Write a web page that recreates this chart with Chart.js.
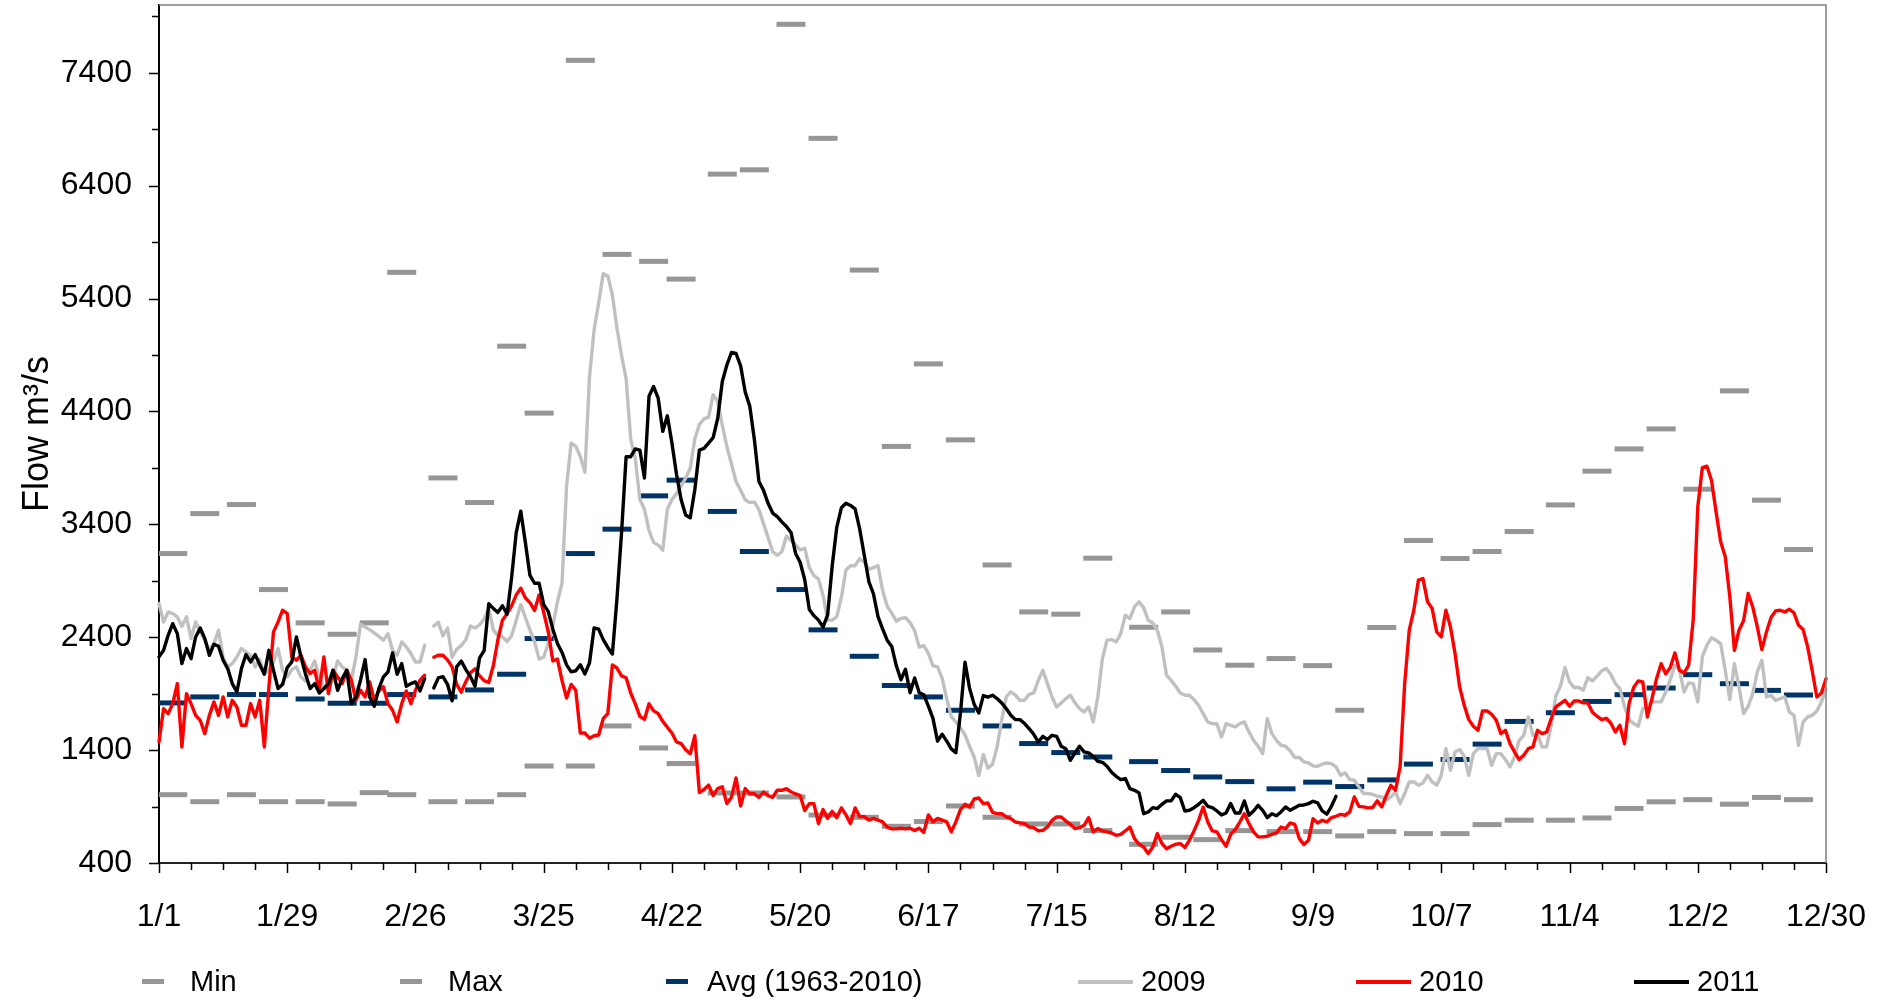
<!DOCTYPE html>
<html>
<head>
<meta charset="utf-8">
<title>Flow</title>
<script src="https://cdn.jsdelivr.net/npm/chart.js@4.4.1/dist/chart.umd.min.js"></script>
<style>
  html, body { margin: 0; padding: 0; background: #fff; }
  #wrap { position: relative; width: 1877px; height: 1002px; overflow: hidden; }
  #flowChart { position: absolute; left: 0; top: 0; }
  .key { position: absolute; top: 967px; height: 29px; line-height: 29px; display: flex; align-items: center;
         font-family: 'Liberation Sans', Arial, sans-serif; font-size: 29px; color: #000; white-space: nowrap; }
  .key .dash { display: inline-block; width: 22px; height: 5px; margin-right: 26px; }
  .key .line { display: inline-block; width: 55px; height: 4px; margin-right: 8px; }
</style>
</head>
<body>
<div id="wrap">
  <canvas id="flowChart" width="1877" height="1002"></canvas>
  <div class="key" style="left:142px"><span class="dash" style="background:#969696"></span>Min</div>
  <div class="key" style="left:400px"><span class="dash" style="background:#969696"></span>Max</div>
  <div class="key" style="left:666px"><span class="dash" style="background:#003366;margin-right:19px"></span>Avg (1963-2010)</div>
  <div class="key" style="left:1078px"><span class="line" style="background:#c0c0c0"></span>2009</div>
  <div class="key" style="left:1356px"><span class="line" style="background:#ff0000"></span>2010</div>
  <div class="key" style="left:1634px"><span class="line" style="background:#000000"></span>2011</div>
</div>
<script>
// day of year (0 = 1/1, leap-year axis, 59 = 2/29 has no data)
const xTickLabels = ['1/1', '1/29', '2/26', '3/25', '4/22', '5/20', '6/17', '7/15', '8/12', '9/9', '10/7', '11/4', '12/2', '12/30'];
const yTickValues = [400, 1400, 2400, 3400, 4400, 5400, 6400, 7400];

// quarter-month statistics, plotted at these days
const periodDays = [3, 10, 18, 25, 33, 40, 47, 53, 62, 70, 77, 83, 92, 100, 108, 114, 123, 130, 138, 145, 154, 161, 168, 175,
  183, 191, 198, 205, 215, 222, 229, 236, 245, 253, 260, 267, 275, 283, 290, 297, 306, 314, 321, 328, 336, 344, 351, 358];
const minFlow = [1005, 943, 1005, 943, 943, 923, 1023, 1005, 943, 943, 1005, 1259, 1259, 1614, 1419, 1281, 1020, 1020, 985, 825, 805, 725, 767, 905,
  805, 746, 746, 687, 566, 628, 607, 687, 678, 678, 640, 678, 660, 660, 740, 779, 779, 799, 883, 942, 961, 921, 981, 961];
const maxFlow = [3141, 3495, 3575, 2822, 2527, 2426, 2527, 5632, 3811, 3593, 4978, 4385, 7510, 5791, 5729, 5572, 6502, 6540, 7829, 6819, 5652, 4090, 4821, 4148,
  3040, 2624, 2604, 3100, 2488, 2624, 2287, 2152, 2211, 2148, 1753, 2486, 3257, 3097, 3159, 3336, 3572, 3871, 4068, 4245, 3711, 4582, 3614, 3177];
const avgFlow = [1818, 1871, 1892, 1892, 1853, 1815, 1815, 1892, 1871, 1933, 2072, 2388, 3141, 3357, 3652, 3791, 3514, 3159, 2822, 2465, 2231, 1972, 1871, 1753,
  1614, 1458, 1378, 1339, 1298, 1219, 1162, 1121, 1057, 1116, 1077, 1136, 1276, 1317, 1453, 1654, 1731, 1831, 1891, 1950, 2068, 1988, 1929, 1888];

// daily flows
const flow2009 = [
  2698, 2535, 2624, 2609, 2580, 2497, 2580, 2388, 2535, 2447,
  2373, 2284, 2343, 2462, 2225, 2137, 2166, 2225, 2299, 2270,
  2240, 2137, 2202, 2078, 2107, 2181, 2299, 2107, 2048, 2113,
  2137, 2048, 2013, 2107, 2190, 2048, 1960, 1930, 2048, 2190,
  2137, 2107, 2019, 2225, 2515, 2491, 2467, 2438, 2408, 2373,
  2432, 2284, 2240, 2358, 2314, 2255, 2181, 2181, 2329, null,
  2500, 2533, 2412, 2481, 2223, 2292, 2326, 2378, 2499, 2481,
  2509, 2561, 2654, 2465, 2413, 2403, 2361, 2413, 2551, 2689,
  2575, 2465, 2361, 2206, 2223, 2344, 2499, 2713, 2878, 3740,
  4120, 4092, 3999, 3861, 4706, 5120, 5361, 5619, 5602, 5430,
  5137, 4896, 4689, 4155, 3982, 3620, 3534, 3344, 3240, 3216,
  3171, 3534, 3620, 3672, 3741, 3810, 3896, 4155, 4285, 4334,
  4350, 4549, 4487, 4276, 4090, 3934, 3779, 3701, 3617, 3592,
  3598, 3530, 3406, 3282, 3157, 3126, 3157, 3297, 3257, 3219,
  3173, 3188, 3017, 2946, 2915, 2769, 2551, 2551, 2582, 2753,
  2995, 3033, 3033, 3095, 3064, 3002, 3017, 3033, 2816, 2676,
  2613, 2542, 2567, 2573, 2529, 2458, 2312, 2325, 2256, 2147,
  2138, 2038, 1858, 1697, 1650, 1597, 1535, 1432, 1339, 1174,
  1361, 1240, 1274, 1428, 1664, 1871, 1915, 1886, 1841, 1841,
  1894, 1906, 2018, 2107, 1989, 1871, 1782, 1818, 1856, 1886,
  1818, 1768, 1738, 1782, 1649, 1871, 2211, 2373, 2379, 2358,
  2432, 2595, 2565, 2669, 2713, 2662, 2550, 2526, 2461, 2314,
  2063, 2018, 1965, 1906, 1886, 1886, 1847, 1797, 1723, 1649,
  1634, 1634, 1516, 1634, 1620, 1605, 1634, 1649, 1561, 1487,
  1434, 1369, 1679, 1546, 1487, 1443, 1434, 1393, 1334, 1334,
  1295, 1286, 1260, 1257, 1275, 1286, 1280, 1251, 1177, 1198,
  1139, 1133, 1074, 1015, 1015, 1009, 991, 985, 956, 985,
  1029, 926, 1015, 1118, 1118, 1089, 1109, 1177, 1118, 1089,
  1177, 1413, 1221, 1384, 1405, 1346, 1177, 1369, 1413, 1413,
  1413, 1266, 1369, 1369, 1316, 1251, 1340, 1487, 1531, 1694,
  1531, 1546, 1428, 1430, 1620, 1880, 1965, 2131, 2004, 1954,
  1954, 1930, 2042, 2013, 2054, 2101, 2122, 2072, 1989, 1945,
  1788, 1670, 1635, 1611, 1768, 1788, 1827, 1827, 1827, 1915,
  2024, 2151, 2113, 1915, 1995, 1989, 1827, 2225, 2329, 2396,
  2373, 2343, 2107, 1847, 2166, 1960, 1723, 1788, 1900, 2092,
  2196, 1871, 1886, 1841, 1856, 1871, 1738, 1708, 1443, 1649,
  1694, 1708, 1747, 1827, 1935, 1664
];
const flow2010 = [
  1472, 1767, 1723, 1812, 1989, 1428, 1900, 1812, 1708, 1664,
  1546, 1708, 1827, 1708, 1871, 1694, 1841, 1782, 1620, 1620,
  1812, 1694, 1841, 1428, 1960, 2447, 2535, 2639, 2609, 2225,
  2196, 2240, 2137, 2078, 2107, 1930, 2225, 1900, 2107, 2048,
  1989, 2107, 2019, 1841, 1930, 1871, 2004, 1841, 1924, 1960,
  1812, 1753, 1649, 1812, 1924, 1812, 1930, 2019, 2063, null,
  2223, 2240, 2240, 2199, 2137, 1982, 1913, 2006, 2085, 2120,
  2058, 2016, 1999, 2147, 2378, 2551, 2609, 2678, 2775, 2834,
  2747, 2706, 2637, 2775, 2620, 2447, 2189, 2206, 2017, 1861,
  1982, 1930, 1551, 1551, 1506, 1527, 1534, 1679, 1723, 2154,
  2127, 2058, 2041, 1906, 1810, 1699, 1672, 1810, 1748, 1723,
  1654, 1603, 1551, 1472, 1458, 1403, 1368, 1527, 1024, 1051,
  1090, 997, 1059, 1075, 926, 982, 1153, 904, 1059, 1013,
  1013, 982, 1029, 997, 982, 1044, 1044, 1059, 1029, 1013,
  997, 864, 926, 926, 749, 873, 795, 857, 801, 888,
  826, 749, 888, 811, 811, 780, 795, 780, 764, 718,
  702, 702, 708, 702, 708, 687, 708, 671, 826, 764,
  795, 780, 764, 677, 764, 873, 920, 895, 967, 976,
  926, 931, 849, 837, 837, 808, 793, 763, 755, 749,
  719, 713, 684, 690, 719, 778, 808, 808, 772, 743,
  705, 713, 734, 802, 675, 705, 684, 675, 666, 645,
  654, 684, 719, 616, 566, 542, 483, 542, 660, 572,
  527, 548, 566, 572, 537, 601, 684, 778, 896, 763,
  684, 675, 607, 548, 654, 696, 763, 837, 749, 675,
  631, 631, 637, 654, 666, 719, 705, 755, 743, 616,
  563, 601, 793, 755, 778, 764, 802, 814, 831, 823,
  852, 985, 902, 897, 888, 891, 950, 897, 1000, 1088,
  1044, 1251, 1989, 2462, 2639, 2905, 2919, 2713, 2654, 2447,
  2403, 2639, 2491, 2255, 1960, 1797, 1670, 1611, 1575, 1747,
  1747, 1717, 1664, 1546, 1575, 1457, 1383, 1316, 1354, 1413,
  1428, 1575, 1546, 1560, 1679, 1782, 1812, 1841, 1788, 1835,
  1835, 1818, 1818, 1735, 1700, 1670, 1682, 1640, 1561, 1620,
  1457, 1812, 1954, 2013, 2004, 1694, 1856, 2033, 2166, 2077,
  2131, 2261, 2107, 2083, 2151, 2550, 3554, 3903, 3915, 3791,
  3510, 3245, 3112, 2757, 2284, 2462, 2545, 2787, 2668, 2491,
  2290, 2447, 2574, 2633, 2639, 2624, 2648, 2615, 2506, 2468,
  2314, 2101, 1871, 1906, 2033, 2219
];
const flow2011 = [
  2226, 2284, 2417, 2520, 2432, 2166, 2299, 2210, 2402, 2482,
  2388, 2240, 2338, 2320, 2196, 2122, 1989, 1915, 2122, 2246,
  2181, 2246, 2157, 2072, 2284, 2107, 1945, 1983, 2131, 2181,
  2402, 2225, 2072, 1945, 1989, 1906, 1945, 1989, 2107, 1930,
  2033, 2107, 1812, 1871, 2019, 2202, 1871, 1788, 1945, 2048,
  2092, 2261, 2072, 2166, 1965, 1989, 2004, 1924, 2033, null,
  1950, 2040, 2051, 1983, 1837, 2137, 2189, 2113, 2051, 1965,
  2217, 2282, 2696, 2655, 2620, 2679, 2603, 2930, 3327, 3516,
  3240, 2947, 2878, 2878, 2689, 2627, 2471, 2344, 2265, 2155,
  2093, 2103, 2155, 2075, 2172, 2482, 2471, 2378, 2309, 2251,
  2741, 3327, 3999, 3999, 4068, 4058, 3810, 4534, 4620, 4517,
  4223, 4361, 4120, 3844, 3620, 3482, 3458, 3706, 4058, 4072,
  4120, 4167, 4338, 4665, 4811, 4922, 4913, 4804, 4572, 4447,
  4152, 3779, 3701, 3586, 3500, 3469, 3422, 3381, 3328, 3142,
  3064, 2909, 2645, 2591, 2551, 2489, 2598, 3033, 3375, 3546,
  3586, 3567, 3536, 3359, 3126, 2893, 2785, 2582, 2474, 2374,
  2318, 2147, 2023, 2116, 1908, 2039, 1908, 1890, 1790, 1681,
  1479, 1541, 1479, 1411, 1377, 1728, 2178, 1945, 1805, 1728,
  1883, 1870, 1886, 1857, 1818, 1768, 1709, 1670, 1670, 1635,
  1590, 1540, 1472, 1522, 1493, 1531, 1522, 1434, 1413, 1310,
  1375, 1434, 1384, 1375, 1345, 1301, 1292, 1257, 1204, 1168,
  1139, 1148, 1059, 1044, 1021, 837, 852, 890, 882, 920,
  950, 950, 1009, 979, 861, 867, 890, 920, 955, 902,
  890, 861, 826, 843, 926, 843, 843, 950, 823, 861,
  911, 867, 802, 837, 818, 852, 896, 867, 890, 911,
  914, 926, 947, 932, 861, 832, 902, 990
];

const FONT = "'Liberation Sans', Arial, sans-serif";
const daily = vals => vals.map((v, i) => ({ x: i, y: v }));
const periodic = vals => vals.map((v, i) => ({ x: periodDays[i], y: v }));

function dashSeries(label, vals, color, order) {
  return {
    label, data: periodic(vals), order,
    showLine: false, pointStyle: 'line', pointRadius: 14.5, pointHoverRadius: 14.5,
    pointBorderWidth: 5, pointBorderColor: color, pointBackgroundColor: color, borderColor: color
  };
}
function lineSeries(label, vals, color, order) {
  return {
    label, data: daily(vals), order,
    borderColor: color, borderWidth: 3.4, pointRadius: 0, tension: 0,
    borderJoinStyle: 'round', borderCapStyle: 'round', spanGaps: false, clip: false
  };
}

// axis tick marks (major + minor) and the grey plot frame
const frameTicks = {
  id: 'frameTicks',
  afterDraw(chart) {
    const { ctx, chartArea: a, scales: { x, y } } = chart;
    ctx.save();
    ctx.strokeStyle = '#808080';
    ctx.lineWidth = 1.5;
    ctx.beginPath();
    ctx.moveTo(a.left, a.top); ctx.lineTo(a.right, a.top); ctx.lineTo(a.right, a.bottom);
    ctx.stroke();
    ctx.strokeStyle = '#000';
    ctx.lineWidth = 1.5;
    ctx.beginPath();
    for (let d = 0; d <= 364; d += 7) {
      const px = Math.round(x.getPixelForValue(d)) + 0.5;
      ctx.moveTo(px, a.bottom); ctx.lineTo(px, a.bottom + (d % 28 === 0 ? 10 : 7));
    }
    for (let v = 400; v < 8000; v += 500) {
      const py = Math.round(y.getPixelForValue(v)) + 0.5;
      ctx.moveTo(a.left, py); ctx.lineTo(a.left - ((v - 400) % 1000 === 0 ? 10 : 7), py);
    }
    ctx.stroke();
    ctx.restore();
  }
};

new Chart(document.getElementById('flowChart'), {
  type: 'line',
  data: {
    datasets: [
      dashSeries('Min', minFlow, '#969696', 6),
      dashSeries('Max', maxFlow, '#969696', 5),
      dashSeries('Avg (1963-2010)', avgFlow, '#003366', 4),
      lineSeries('2009', flow2009, '#c0c0c0', 3),
      lineSeries('2010', flow2010, '#ff0000', 2),
      lineSeries('2011', flow2011, '#000000', 1)
    ]
  },
  options: {
    responsive: false, animation: false, devicePixelRatio: 1, events: [],
    layout: { autoPadding: false, padding: { top: 5, right: 51, bottom: 0, left: 0 } },
    plugins: { legend: { display: false }, tooltip: { enabled: false } },
    scales: {
      x: {
        type: 'linear', min: 0, max: 364,
        grid: { display: false, drawTicks: false },
        border: { display: true, color: '#222', width: 2 },
        afterBuildTicks: s => { s.ticks = xTickLabels.map((_, i) => ({ value: i * 28 })); },
        afterFit: s => { s.height = 139; s.paddingLeft = 0; s.paddingRight = 0; },
        ticks: {
          autoSkip: false, maxRotation: 0, padding: 35, color: '#000',
          font: { family: FONT, size: 32 },
          callback: (v, i) => xTickLabels[i]
        }
      },
      y: {
        type: 'linear', min: 400, max: 8000,
        grid: { display: false, drawTicks: false },
        border: { display: true, color: '#000', width: 2 },
        afterBuildTicks: s => { s.ticks = yTickValues.map(v => ({ value: v })); },
        afterFit: s => { s.width = 159; s.paddingTop = 0; s.paddingBottom = 0; },
        ticks: {
          padding: 27, color: '#000',
          // small lineHeight keeps the top label from pushing the plot area down
          font: { family: FONT, size: 32, lineHeight: 0.3 },
          callback: v => String(v)
        },
        title: {
          display: true, text: 'Flow m³/s', color: '#000',
          font: { family: FONT, size: 36 },
          padding: { top: 16, bottom: 0 }
        }
      }
    }
  },
  plugins: [frameTicks]
});
</script>
</body>
</html>
